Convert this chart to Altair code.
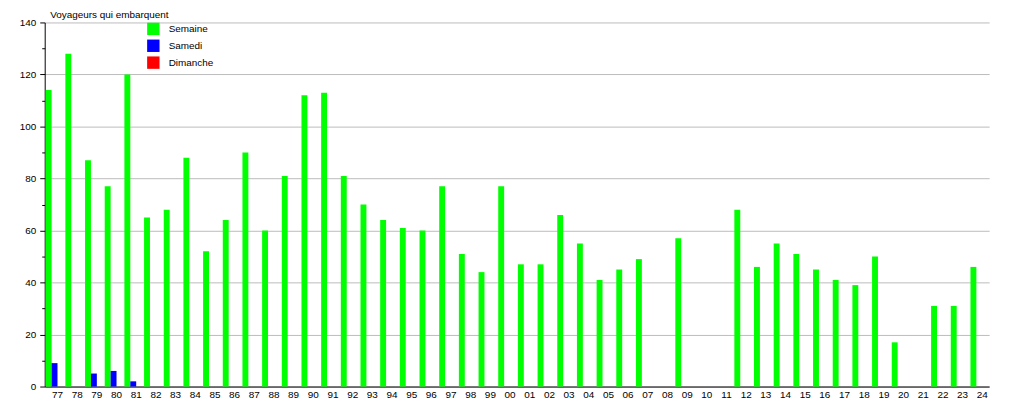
import altair as alt
import pandas as pd

years = ["77", "78", "79", "80", "81", "82", "83", "84", "85", "86", "87", "88",
         "89", "90", "91", "92", "93", "94", "95", "96", "97", "98", "99", "00",
         "01", "02", "03", "04", "05", "06", "07", "08", "09", "10", "11", "12",
         "13", "14", "15", "16", "17", "18", "19", "20", "21", "22", "23", "24"]

semaine = [114, 128, 87, 77, 120, 65, 68, 88, 52, 64, 90, 60,
           81, 112, 113, 81, 70, 64, 61, 60, 77, 51, 44, 77,
           47, 47, 66, 55, 41, 45, 49, 0, 57, 0, 0, 68,
           46, 55, 51, 45, 41, 39, 50, 17, 0, 31, 31, 46]

samedi = [9, 0, 5, 6, 2, 0, 0, 0, 0, 0, 0, 0,
          0, 0, 0, 0, 0, 0, 0, 0, 0, 0, 0, 0,
          0, 0, 0, 0, 0, 0, 0, 0, 0, 0, 0, 0,
          0, 0, 0, 0, 0, 0, 0, 0, 0, 0, 0, 0]

dimanche = [0, 0, 0, 0, 0, 0, 0, 0, 0, 0, 0, 0,
            0, 0, 0, 0, 0, 0, 0, 0, 0, 0, 0, 0,
            0, 0, 0, 0, 0, 0, 0, 0, 0, 0, 0, 0,
            0, 0, 0, 0, 0, 0, 0, 0, 0, 0, 0, 0]

series = ["Semaine", "Samedi", "Dimanche"]
colors = ["#00ff00", "#0000ff", "#ff0000"]
y_ticks = [0, 10, 20, 30, 40, 50, 60, 70, 80, 90, 100, 110, 120, 130, 140]
title_text = "Voyageurs qui embarquent"

rows = []
for i, yr in enumerate(years):
    for s, vals in zip(series, [semaine, samedi, dimanche]):
        rows.append({"annee": yr, "serie": s, "valeur": vals[i]})
df = pd.DataFrame(rows)

FONT = "Liberation Sans"

chart = alt.Chart(df).mark_bar().encode(
    x=alt.X("annee:N", sort=years,
            scale=alt.Scale(paddingInner=0.1, paddingOuter=0.05),
            axis=alt.Axis(title=None, labelAngle=0, ticks=False, labelOffset=3,
                          domainColor="black", labelFont=FONT, labelFontSize=10,
                          labelColor="black", labelPadding=3, grid=False)),
    xOffset=alt.XOffset("serie:N", sort=series),
    y=alt.Y("valeur:Q", scale=alt.Scale(domain=[0, 140], nice=False),
            axis=alt.Axis(title=title_text, titleAngle=0, titleAlign="left",
                          titleBaseline="alphabetic", titleX=5, titleY=-5,
                          titleFont=FONT, titleFontSize=10, titleFontWeight="normal",
                          titleColor="black",
                          values=y_ticks,
                          labelExpr="datum.value % 20 === 0 ? datum.label : ''",
                          tickSize={"condition": {"test": "datum.value % 20 === 0", "value": 5}, "value": 3},
                          gridOpacity={"condition": {"test": "datum.value % 20 === 0", "value": 1}, "value": 0},
                          grid=True, gridColor="#bbbbbb", gridWidth=1,
                          domainColor="black", tickColor="black",
                          labelFont=FONT, labelFontSize=10, labelColor="black",
                          labelPadding=4)),
    color=alt.Color("serie:N", sort=series,
                    scale=alt.Scale(domain=series, range=colors),
                    legend=alt.Legend(title=None, orient="none", legendX=103, legendY=0,
                                      symbolType="square", symbolSize=156,
                                      symbolStrokeWidth=0, symbolOpacity=1,
                                      rowPadding=4, labelOffset=9, padding=0,
                                      labelFont=FONT, labelFontSize=10,
                                      labelColor="black")),
).properties(
    width=952, height=367,
    autosize=alt.AutoSizeParams(type="none"),
    padding={"left": 37, "top": 13, "right": 18, "bottom": 12},
).configure_view(stroke=None)

chart.save("out.html", embed_options={"renderer": "svg", "actions": False})
